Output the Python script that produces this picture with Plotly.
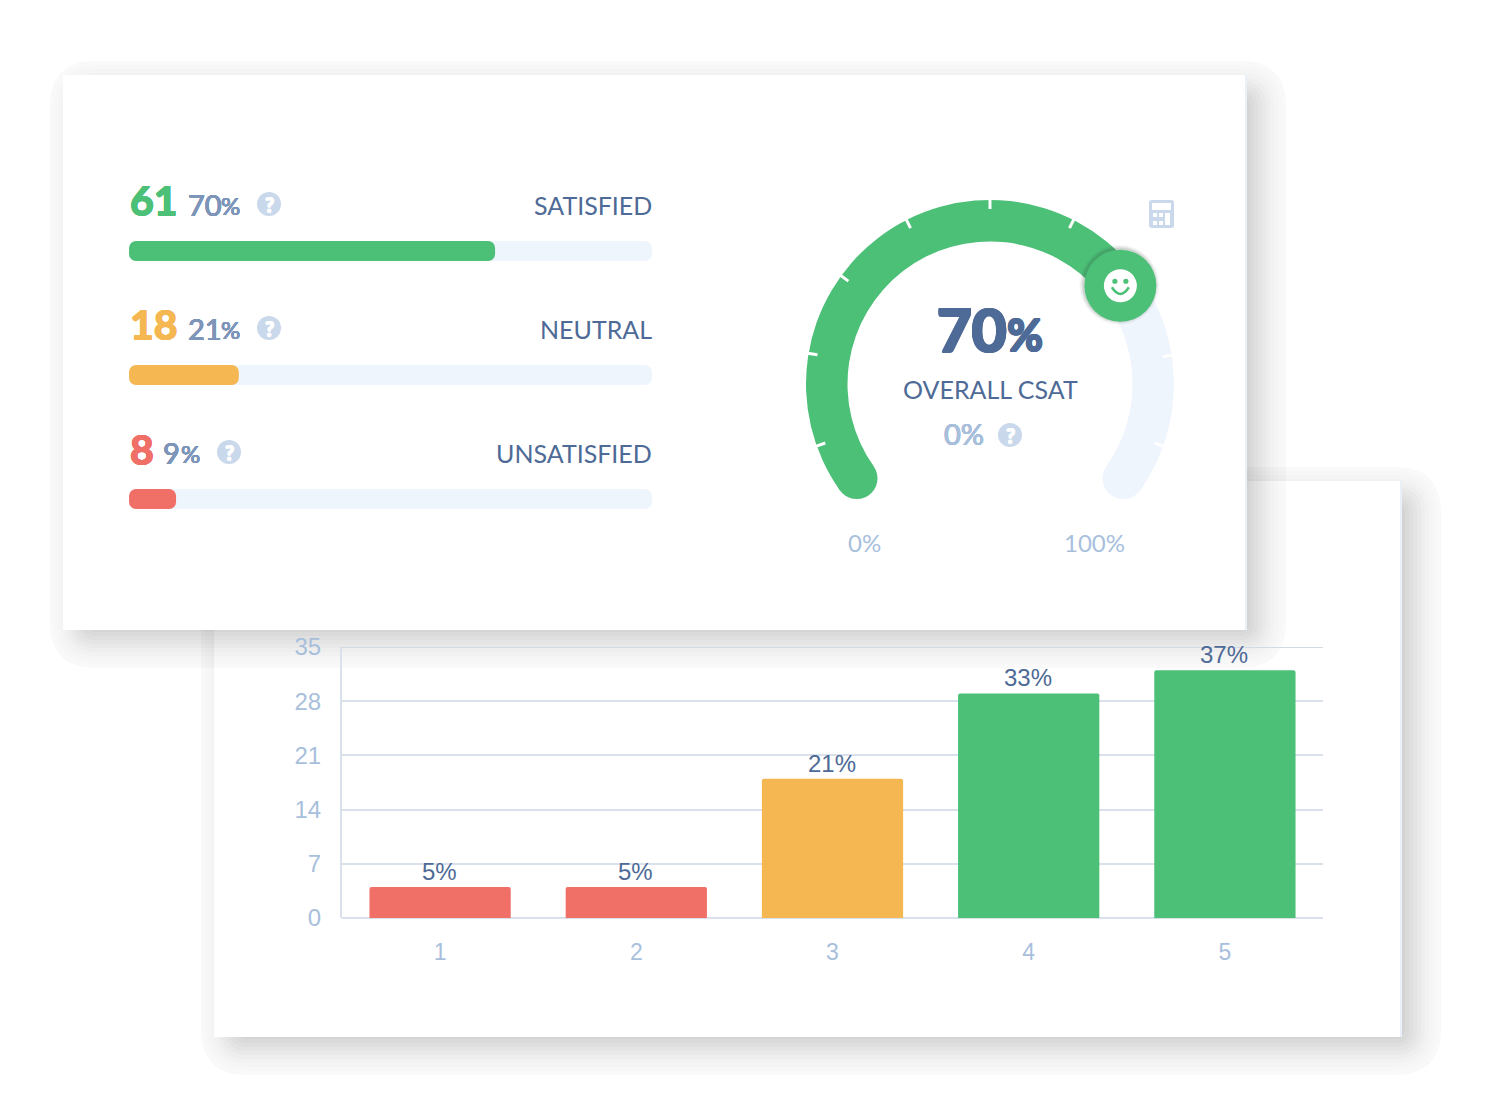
import math
import plotly.graph_objects as go

W, H = 1490, 1115

# ---- data ----
score_labels = ["1", "2", "3", "4", "5"]
score_counts = [4, 4, 18, 29, 32]
score_pct_text = ["5%", "5%", "21%", "33%", "37%"]
score_colors = ["#f06f67", "#f06f67", "#f5b751", "#4dc078", "#4dc078"]
y_ticks = [0, 7, 14, 21, 28, 35]

group_names = ["SATISFIED", "NEUTRAL", "UNSATISFIED"]
group_counts = ["61", "18", "8"]
group_pct = [70, 21, 9]
group_colors = ["#4dc078", "#f5b751", "#f06f67"]

csat_value = 70
gauge_sweep = 250.6
gauge_ticks = [-109.7, -80.4, -54, -27, 0, 27, 81, 109.7]
knob_angle = 53

TEXT = "#4e6a96"
MID = "#7d95b8"
LIGHT = "#a8bfdc"
TRACK = "#eff5fd"
ICON = "#c9d8ea"
GRID = "#d9e1ec"
FONT = "Lato"
BARFONT = "Liberation Sans"


def px(x):
    return x / W


def py(y):
    return 1 - y / H


def P(x, y):
    return f"{px(x):.6f},{py(y):.6f}"


def rr(x0, y0, x1, y1, r):
    return (f"M{P(x0 + r, y0)} L{P(x1 - r, y0)} Q{P(x1, y0)} {P(x1, y0 + r)} "
            f"L{P(x1, y1 - r)} Q{P(x1, y1)} {P(x1 - r, y1)} L{P(x0 + r, y1)} "
            f"Q{P(x0, y1)} {P(x0, y1 - r)} L{P(x0, y0 + r)} Q{P(x0, y0)} {P(x0 + r, y0)} Z")


def rr_top(x0, y0, x1, cut, r):
    return (f"M{P(x0 + r, y0)} L{P(x1 - r, y0)} Q{P(x1, y0)} {P(x1, y0 + r)} "
            f"L{P(x1, cut)} L{P(x0, cut)} L{P(x0, y0 + r)} Q{P(x0, y0)} {P(x0 + r, y0)} Z")


def rr_bottom(x0, cut, x1, y1, r):
    return (f"M{P(x0, cut)} L{P(x1, cut)} L{P(x1, y1 - r)} Q{P(x1, y1)} {P(x1 - r, y1)} "
            f"L{P(x0 + r, y1)} Q{P(x0, y1)} {P(x0, y1 - r)} Z")


shapes_list = []


def path_shape(path, fill, layer):
    shapes_list.append(dict(type="path", path=path, xref="paper", yref="paper", layer=layer,
                            fillcolor=fill, line_width=0))


def shadow(x0, y0, x1, y1, cut=None):
    """Banded soft box shadow; the part under `cut` sits above the traces so it tints the chart."""
    prev = 0.0
    dx, dy = 13, 12
    for d in range(26, -30, -4):
        u = max(0.0, (26 - d) / 39)
        target = 0.03 + 0.2 * u ** 1.5
        a = 1 - (1 - target) / (1 - prev)
        prev = target
        fill = f"rgba(60,60,60,{a:.4f})"
        sx0, sy0, sx1, sy1 = x0 + dx - d, y0 + dy - d, x1 + dx + d, y1 + dy + d
        r = max(2, d + 20)
        if cut is not None and sy1 - r > cut:
            path_shape(rr_top(sx0, sy0, sx1, cut, r), fill, "below")
            path_shape(rr_bottom(sx0, cut, sx1, sy1, r), fill, "above")
        else:
            path_shape(rr(sx0, sy0, sx1, sy1, r), fill, "below")


def rect(x0, y0, x1, y1, color, layer="above"):
    shapes_list.append(dict(type="rect", xref="paper", yref="paper", layer=layer,
                            x0=px(x0), x1=px(x1), y0=py(y0), y1=py(y1),
                            fillcolor=color, line_width=0))


def circle(cx, cy, r, color, layer="above"):
    shapes_list.append(dict(type="circle", xref="paper", yref="paper", layer=layer,
                            x0=px(cx - r), x1=px(cx + r), y0=py(cy - r), y1=py(cy + r),
                            fillcolor=color, line_width=0))


annotations = []


def fatten(color, w):
    return (f"{w}px 0 0 {color}, -{w}px 0 0 {color}, 0 {w}px 0 {color}, 0 -{w}px 0 {color}, "
            f"{w}px {w}px 0 {color}, -{w}px -{w}px 0 {color}, {w}px -{w}px 0 {color}, -{w}px {w}px 0 {color}")


def label(x, y, text, size, color, anchor="left", weight=None, fat=0):
    f = dict(size=size, color=color, family=FONT)
    if weight:
        f["weight"] = weight
    if fat:
        f["shadow"] = fatten(color, fat)
    annotations.append(dict(x=px(x), y=py(y), xref="paper", yref="paper", text=text, showarrow=False,
                            xanchor=anchor, yanchor="middle", font=f, borderpad=0, borderwidth=0))


def help_icon(cx, cy):
    circle(cx, cy, 12, ICON)
    label(cx, cy, "?", 20, "#ffffff", "center", weight=700, fat=0.5)


# ---- cards ----
shadow(214, 481, 1402, 1037)
rect(214, 481, 1402, 1037, "#ffffff", "below")
rect(1400, 481, 1402, 1037, "#e9f0f8", "below")
shadow(63, 75, 1247, 630, cut=630)
rect(63, 75, 1247, 630, "#ffffff", "below")
rect(1245, 75, 1247, 630, "#e9f0f8", "below")

# top gridline, kept visible over the card shadow
shapes_list.append(dict(type="line", xref="paper", yref="y", layer="above",
                        x0=px(341), x1=px(1323), y0=y_ticks[-1], y1=y_ticks[-1],
                        line=dict(color="#d2dae6", width=2)))

# ---- traces ----
fig = go.Figure()

fig.add_trace(go.Bar(
    x=score_labels, y=score_counts,
    marker=dict(color=score_colors, cornerradius=2, line_width=0), width=0.72,
    hoverinfo="skip", showlegend=False, xaxis="x", yaxis="y"))
for i, (val, txt) in enumerate(zip(score_counts, score_pct_text)):
    annotations.append(dict(x=i, y=val, xref="x", yref="y", text=txt, showarrow=False,
                            xanchor="center", yanchor="bottom", yshift=1, xshift=-1,
                            borderpad=0, font=dict(family=BARFONT, size=24, color=TEXT)))

base = 0.01
fig.add_trace(go.Bar(
    y=group_names, x=[100 - base] * 3, base=[base] * 3, orientation="h", width=20 / 124,
    marker=dict(color=TRACK, cornerradius=7, line_width=0),
    hoverinfo="skip", showlegend=False, xaxis="x3", yaxis="y3"))
fig.add_trace(go.Bar(
    y=group_names, x=[v - base for v in group_pct], base=[base] * 3, orientation="h", width=20 / 124,
    marker=dict(color=group_colors, cornerradius=7, line_width=0),
    hoverinfo="skip", showlegend=False, xaxis="x3", yaxis="y3"))

# gauge
GX, GY, GR, GIN = 990, 384, 184, 142.5
gap = 100 * (360 - gauge_sweep) / gauge_sweep
fig.add_trace(go.Pie(
    values=[csat_value, 100 - csat_value, gap], sort=False, direction="clockwise",
    rotation=-gauge_sweep / 2, hole=GIN / GR, textinfo="none", hoverinfo="skip", showlegend=False,
    marker=dict(colors=["#4dc078", TRACK, "rgba(0,0,0,0)"], line_width=0),
    domain=dict(x=[px(GX - GR), px(GX + GR)], y=[py(GY + GR), py(GY - GR)])))
mid_r = (GR + GIN) / 2
fig.add_trace(go.Scatterpolar(
    r=[mid_r, mid_r], theta=[-gauge_sweep / 2, gauge_sweep / 2], mode="markers",
    marker=dict(size=GR - GIN, color=["#4dc078", TRACK], line_width=0),
    hoverinfo="skip", showlegend=False))

# gauge tick marks
for a in gauge_ticks:
    t = math.radians(a)
    x0, y0 = GX + (GR - 9) * math.sin(t), GY - (GR - 9) * math.cos(t)
    x1, y1 = GX + (GR + 1) * math.sin(t), GY - (GR + 1) * math.cos(t)
    shapes_list.append(dict(type="line", xref="paper", yref="paper", layer="above",
                            x0=px(x0), y0=py(y0), x1=px(x1), y1=py(y1),
                            line=dict(color="#ffffff", width=3)))

# knob
t = math.radians(knob_angle)
KX, KY = GX + mid_r * math.sin(t), GY - mid_r * math.cos(t)
for off, alpha in [(4, 0.04), (3, 0.05), (2, 0.07), (1, 0.09)]:
    circle(KX - 1, KY - 1, 36 + off, f"rgba(40,70,50,{alpha})")
circle(KX, KY, 36, "#4dc078")
circle(KX, KY, 16.5, "#ffffff")
circle(KX - 5.5, KY - 4.5, 2.6, "#4dc078")
circle(KX + 5.5, KY - 4.5, 2.6, "#4dc078")
shapes_list.append(dict(
    type="path", xref="paper", yref="paper", layer="above", line=dict(color="#4dc078", width=2.5),
    path=f"M{P(KX - 8.5, KY + 1.5)} Q{P(KX, KY + 15)} {P(KX + 8.5, KY + 1.5)}"))

# ---- left panel text ----
rows_y = [204, 328, 452]
pct_x = [188, 188, 163]
pct_digit_end = [221, 221, 181]
icon_x = [269, 269, 229]
for i in range(3):
    y = rows_y[i]
    label(129.5, y - 4, group_counts[i], 41, group_colors[i], weight=700, fat=0.5)
    label(pct_x[i], y, str(group_pct[i]), 29, MID, weight=400, fat=0.2)
    label(pct_digit_end[i], y + 1.5, "%", 24, MID, weight=400, fat=0.2)
    help_icon(icon_x[i], y)
    label(652, y + 1, group_names[i], 25, TEXT, "right")

# ---- gauge text ----
label(937, 329, "70", 60, TEXT, weight=700, fat=1.2)
label(1007, 334, "%", 44, TEXT, weight=700, fat=0.7)
label(990, 389, "OVERALL CSAT", 25, TEXT, "center")
label(964, 434, "0%", 29, LIGHT, "center", weight=400, fat=0.2)
help_icon(1010, 435)
label(864, 542, "0%", 24, LIGHT, "center")
label(1094, 542, "100%", 24, LIGHT, "center")

# ---- calculator icon ----
path_shape(rr(1149, 200, 1174, 228, 3), ICON, "above")
rect(1152, 203, 1171, 210, "#ffffff")
for cx in (1155, 1161):
    for cy in (215, 223):
        rect(cx - 2, cy - 2, cx + 2, cy + 2, "#ffffff")
rect(1165, 213, 1170, 225, "#ffffff")

# ---- layout ----
fig.update_layout(
    template=None,
    width=W, height=H, autosize=False, margin=dict(l=0, r=0, t=0, b=0, pad=0),
    paper_bgcolor="#ffffff", plot_bgcolor="rgba(0,0,0,0)", barmode="overlay",
    showlegend=False, hovermode=False, shapes=shapes_list, annotations=annotations,
    xaxis=dict(domain=[px(342), px(1323)], type="category", categoryorder="array",
               categoryarray=score_labels, range=[-0.5, 4.5], showgrid=False, zeroline=False,
               showline=False, ticks="", ticklabelstandoff=18, fixedrange=True, automargin=False,
               tickfont=dict(family=BARFONT, size=23, color=LIGHT)),
    yaxis=dict(domain=[py(918), py(647)], range=[0, 35], tickvals=y_ticks, ticks="",
               showgrid=True, gridcolor=GRID, gridwidth=2, zeroline=True, zerolinecolor=GRID,
               zerolinewidth=2, showline=True, linecolor=GRID, linewidth=2, ticklabelstandoff=14,
               fixedrange=True, automargin=False, tickfont=dict(family=BARFONT, size=24, color=LIGHT)),
    xaxis3=dict(domain=[px(129), px(652)], range=[0, 100], visible=False, anchor="y3",
                fixedrange=True, automargin=False),
    yaxis3=dict(domain=[py(561), py(189)], type="category", categoryorder="array",
                categoryarray=group_names[::-1], visible=False, anchor="x3", fixedrange=True,
                automargin=False),
    polar=dict(domain=dict(x=[px(GX - GR), px(GX + GR)], y=[py(GY + GR), py(GY - GR)]),
               bgcolor="rgba(0,0,0,0)",
               radialaxis=dict(range=[0, GR], visible=False),
               angularaxis=dict(visible=False, rotation=90, direction="clockwise")),
)

fig.write_html("out.html", config=dict(displayModeBar=False, responsive=False),
               post_script="document.body.style.margin='0';document.body.style.overflow='hidden';")
